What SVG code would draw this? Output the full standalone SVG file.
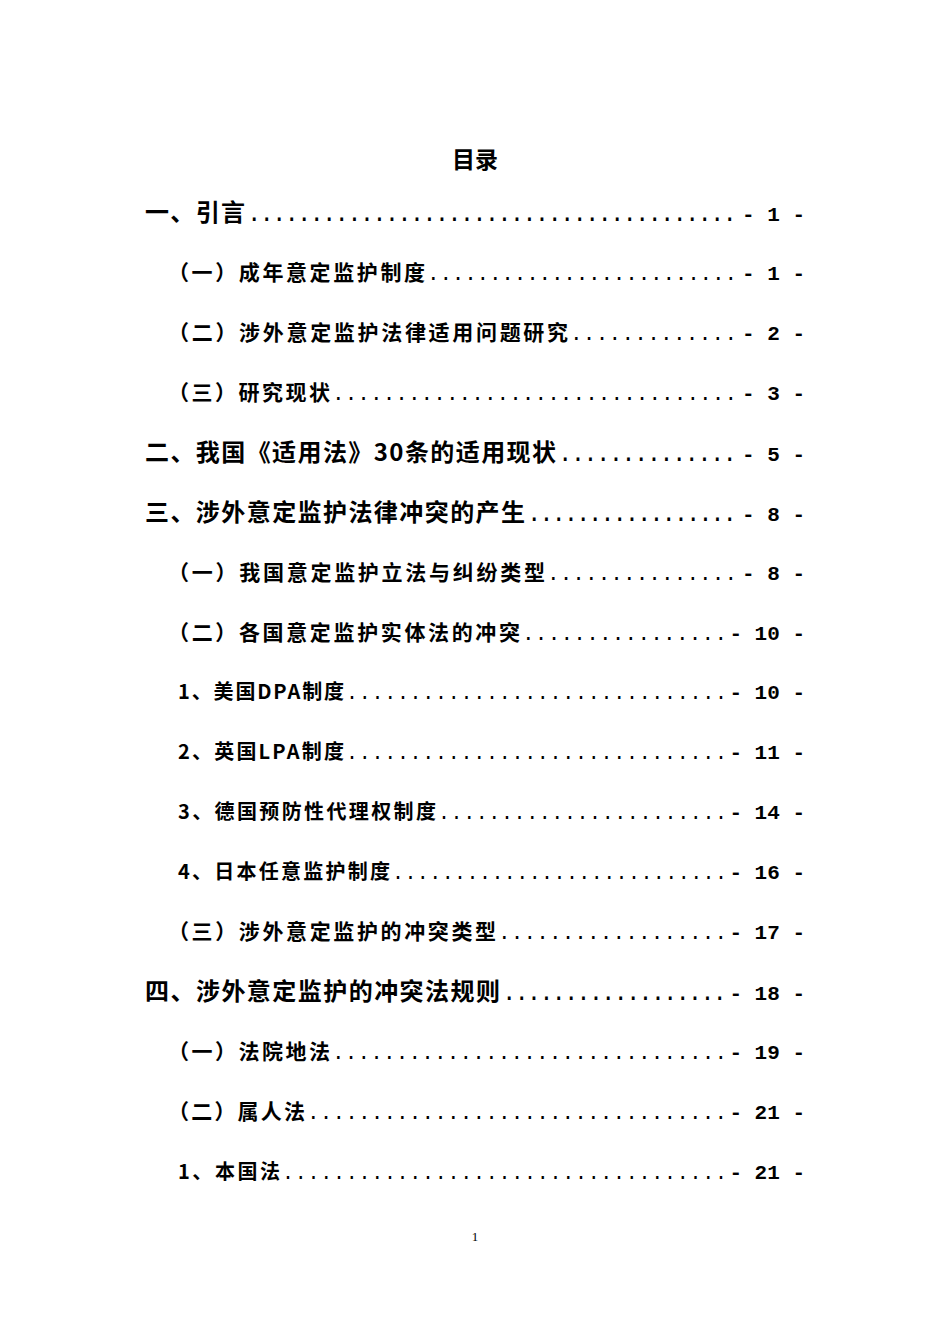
<svg xmlns="http://www.w3.org/2000/svg" width="950" height="1344" viewBox="0 0 950 1344">
<style>
text{font-family:"Noto Sans CJK SC","Liberation Sans",sans-serif;font-weight:bold;fill:#000}
.l1{font-size:24px}.l2{font-size:21px}.l3{font-size:20px}
.d{font-family:"Liberation Mono",monospace;font-weight:normal}
.n{text-anchor:end;font-family:"Liberation Mono",monospace;font-weight:bold;font-size:21px}
</style>
<rect width="950" height="1344" fill="#fff"/>
<text x="475" y="168" font-size="23" text-anchor="middle">目录</text>
<g id="e1" class="l1"><text x="145" y="221" textLength="100">一、引言</text><text class="d" x="247" y="221" textLength="490" lengthAdjust="spacing">.......................................</text><text class="n" x="805" y="221">- 1 -</text></g>
<g id="e2" class="l2"><text x="168" y="280" textLength="257">（一）成年意定监护制度</text><text class="d" x="427" y="280" textLength="310" lengthAdjust="spacing">.........................</text><text class="n" x="805" y="280">- 1 -</text></g>
<g id="e3" class="l2"><text x="168" y="340" textLength="400">（二）涉外意定监护法律适用问题研究</text><text class="d" x="570" y="340" textLength="167" lengthAdjust="spacing">.............</text><text class="n" x="805" y="340">- 2 -</text></g>
<g id="e4" class="l2"><text x="168" y="400" textLength="162">（三）研究现状</text><text class="d" x="332" y="400" textLength="405" lengthAdjust="spacing">................................</text><text class="n" x="805" y="400">- 3 -</text></g>
<g id="e5" class="l1"><text x="145" y="461" textLength="411">二、我国《适用法》30条的适用现状</text><text class="d" x="558" y="461" textLength="179" lengthAdjust="spacing">..............</text><text class="n" x="805" y="461">- 5 -</text></g>
<g id="e6" class="l1"><text x="145" y="521" textLength="380">三、涉外意定监护法律冲突的产生</text><text class="d" x="527" y="521" textLength="210" lengthAdjust="spacing">.................</text><text class="n" x="805" y="521">- 8 -</text></g>
<g id="e7" class="l2"><text x="168" y="580" textLength="377">（一）我国意定监护立法与纠纷类型</text><text class="d" x="547" y="580" textLength="190" lengthAdjust="spacing">...............</text><text class="n" x="805" y="580">- 8 -</text></g>
<g id="e8" class="l2"><text x="168" y="640" textLength="352">（二）各国意定监护实体法的冲突</text><text class="d" x="522" y="640" textLength="205" lengthAdjust="spacing">................</text><text class="n" x="805" y="640">- 10 -</text></g>
<g id="e9" class="l3"><text x="178" y="699" textLength="166">1、美国DPA制度</text><text class="d" x="346" y="699" textLength="381" lengthAdjust="spacing">..............................</text><text class="n" x="805" y="699">- 10 -</text></g>
<g id="e10" class="l3"><text x="178" y="759" textLength="166">2、英国LPA制度</text><text class="d" x="346" y="759" textLength="381" lengthAdjust="spacing">..............................</text><text class="n" x="805" y="759">- 11 -</text></g>
<g id="e11" class="l3"><text x="178" y="819" textLength="258">3、德国预防性代理权制度</text><text class="d" x="438" y="819" textLength="289" lengthAdjust="spacing">.......................</text><text class="n" x="805" y="819">- 14 -</text></g>
<g id="e12" class="l3"><text x="178" y="879" textLength="212">4、日本任意监护制度</text><text class="d" x="392" y="879" textLength="335" lengthAdjust="spacing">...........................</text><text class="n" x="805" y="879">- 16 -</text></g>
<g id="e13" class="l2"><text x="168" y="939" textLength="328">（三）涉外意定监护的冲突类型</text><text class="d" x="498" y="939" textLength="229" lengthAdjust="spacing">..................</text><text class="n" x="805" y="939">- 17 -</text></g>
<g id="e14" class="l1"><text x="145" y="1000" textLength="355">四、涉外意定监护的冲突法规则</text><text class="d" x="502" y="1000" textLength="225" lengthAdjust="spacing">..................</text><text class="n" x="805" y="1000">- 18 -</text></g>
<g id="e15" class="l2"><text x="168" y="1059" textLength="162">（一）法院地法</text><text class="d" x="332" y="1059" textLength="395" lengthAdjust="spacing">...............................</text><text class="n" x="805" y="1059">- 19 -</text></g>
<g id="e16" class="l2"><text x="168" y="1119" textLength="137">（二）属人法</text><text class="d" x="307" y="1119" textLength="420" lengthAdjust="spacing">.................................</text><text class="n" x="805" y="1119">- 21 -</text></g>
<g id="e17" class="l3"><text x="178" y="1179" textLength="102">1、本国法</text><text class="d" x="282" y="1179" textLength="445" lengthAdjust="spacing">...................................</text><text class="n" x="805" y="1179">- 21 -</text></g>
<text x="475" y="1241" font-size="13" text-anchor="middle" style="font-family:'Liberation Serif',serif;font-weight:normal">1</text>
</svg>
